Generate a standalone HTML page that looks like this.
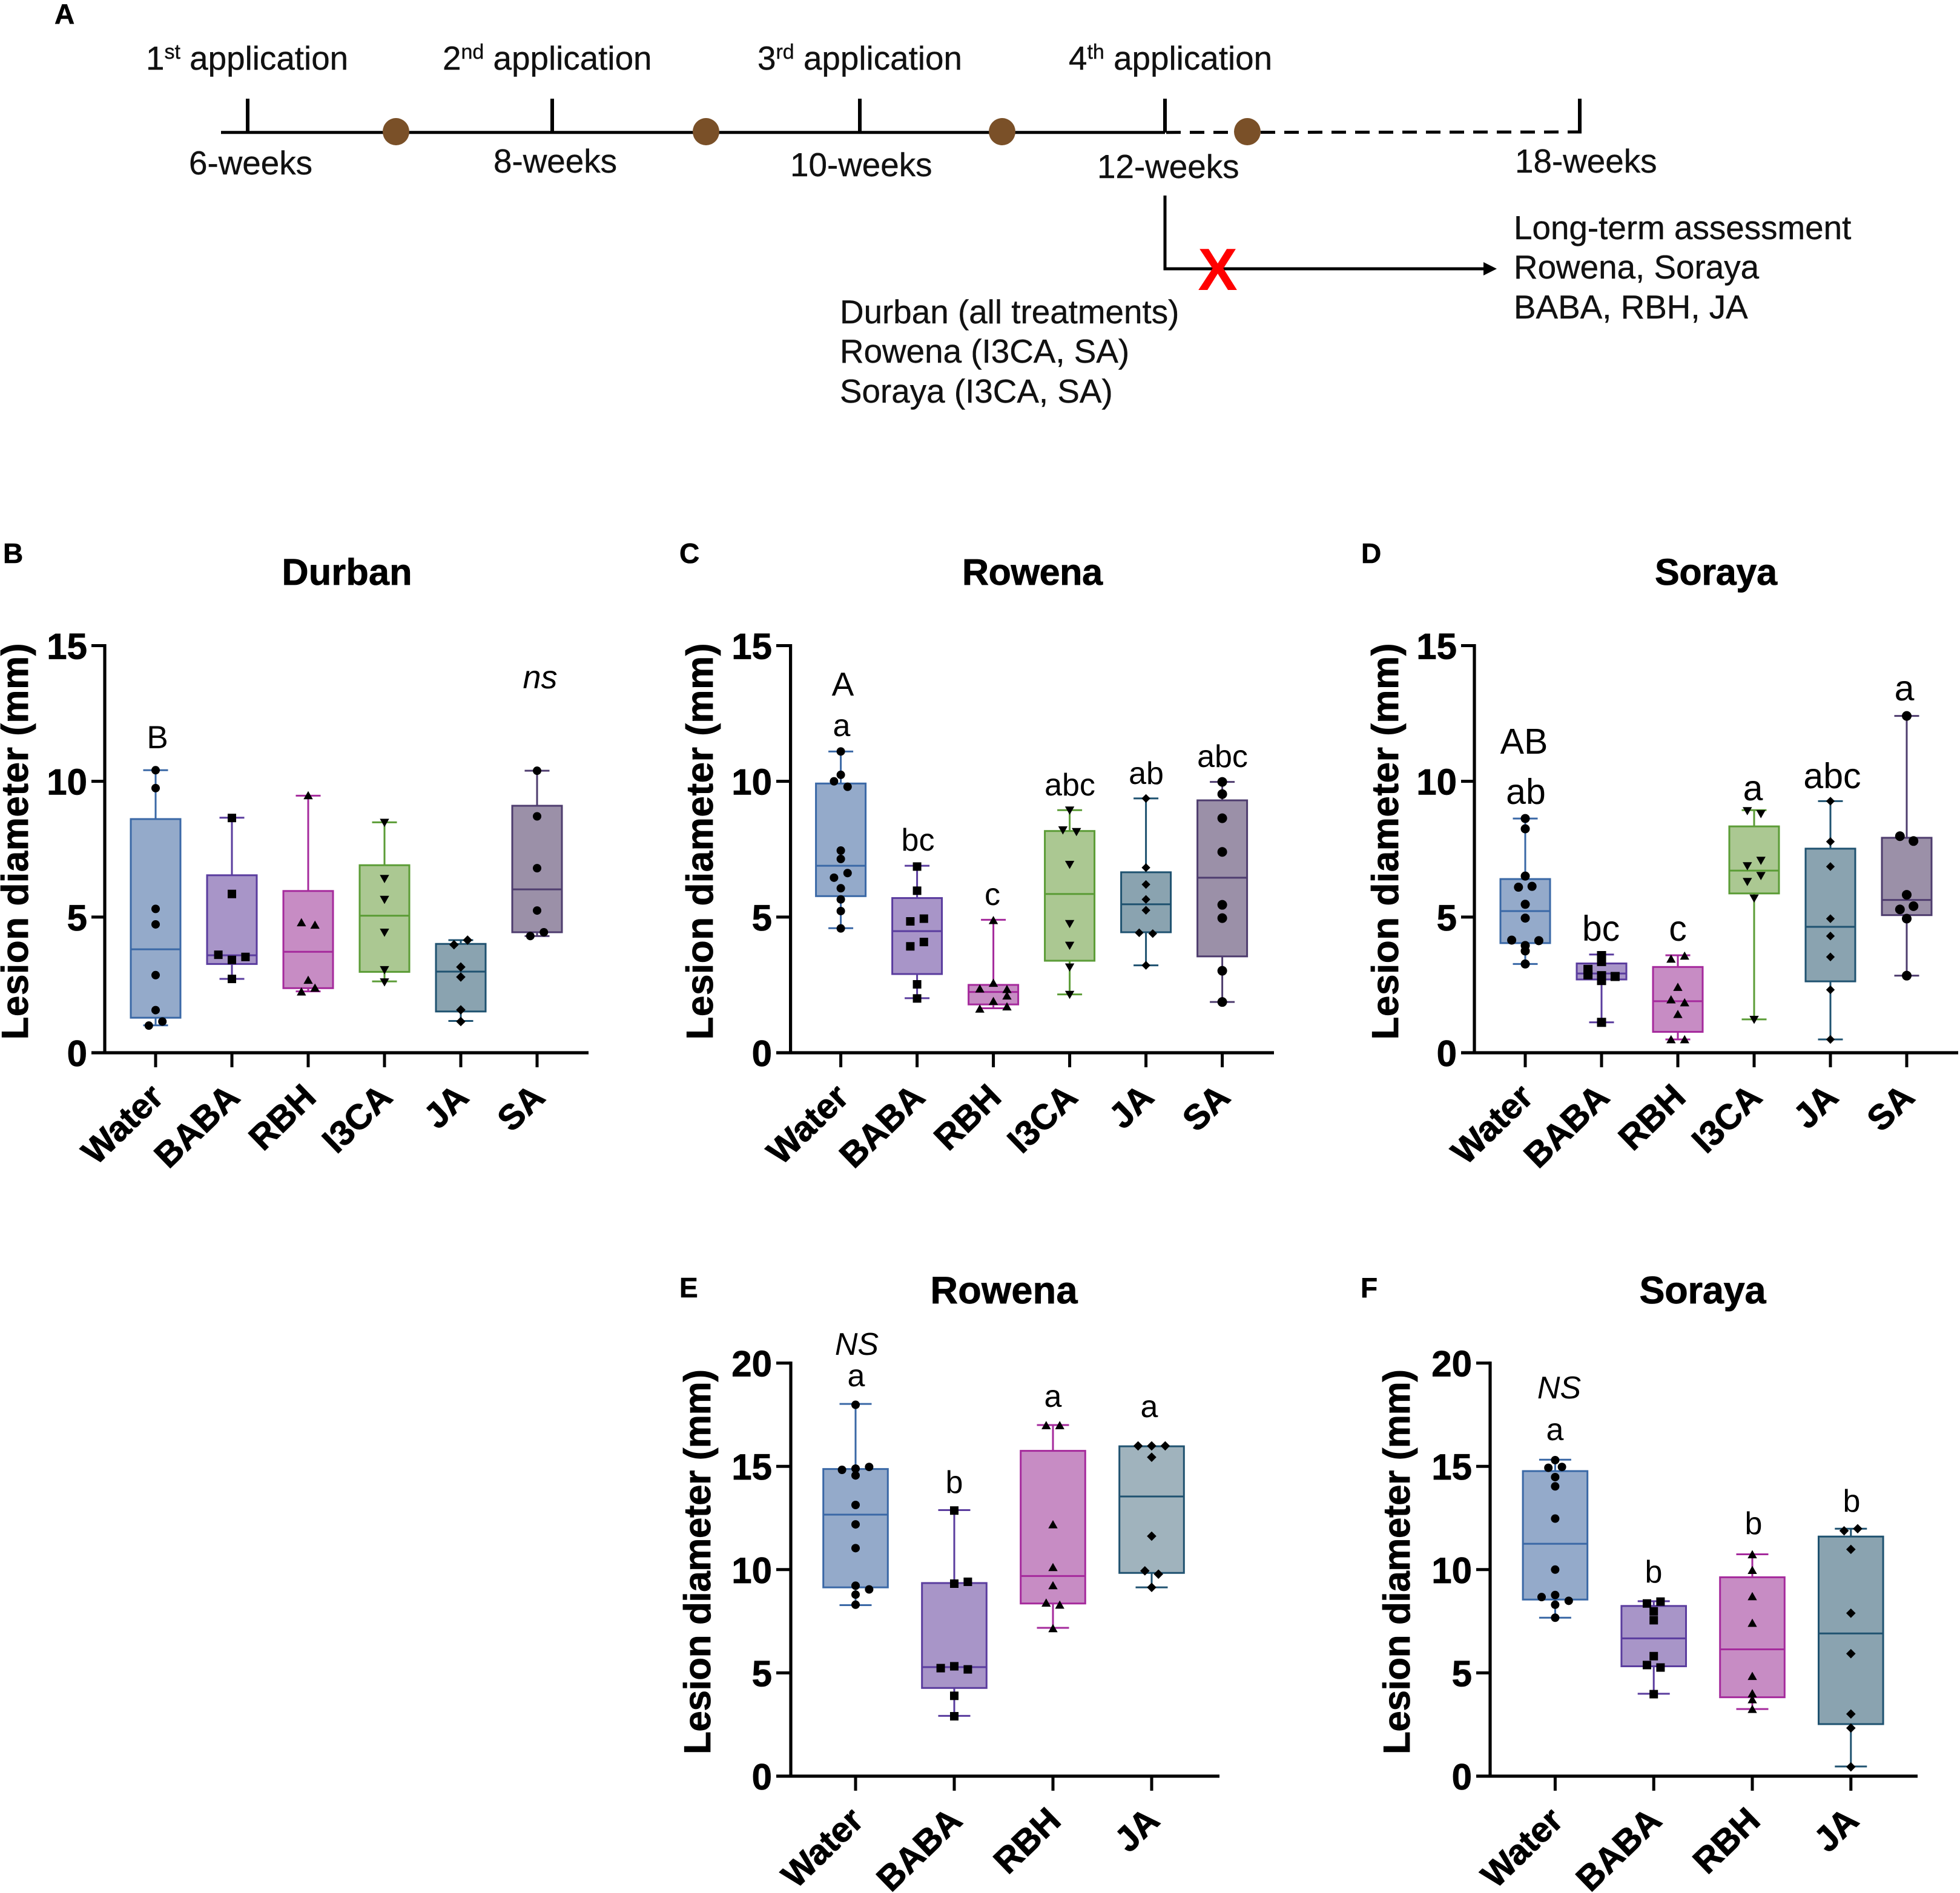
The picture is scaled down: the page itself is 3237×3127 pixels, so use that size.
<!DOCTYPE html>
<html lang="en">
<head>
<meta charset="utf-8">
<title>Lesion diameter by treatment</title>
<style>
html,body{margin:0;padding:0;background:#fff;}
svg{display:block;}
text{font-family:"Liberation Sans",Arial,sans-serif;fill:#000;}
.a{font-size:54.8px;fill:#111;stroke:#111;stroke-width:0.4px;}
.sup{font-size:34px;}
.pl{font-size:46px;font-weight:bold;stroke:#000;stroke-width:0.6px;}
.ann{fill:#111;}
</style>
</head>
<body>
<svg id="figure" xmlns="http://www.w3.org/2000/svg" width="3237" height="3127" viewBox="0 0 3237 3127">
<rect x="0" y="0" width="3237" height="3127" fill="#fff"/>

<g id="panelA">
  <text class="pl" x="90" y="39">A</text>
  <text class="a" x="241" y="115">1<tspan class="sup" dy="-18">st</tspan><tspan dy="18"> application</tspan></text>
  <text class="a" x="731" y="115">2<tspan class="sup" dy="-18">nd</tspan><tspan dy="18"> application</tspan></text>
  <text class="a" x="1251" y="115">3<tspan class="sup" dy="-18">rd</tspan><tspan dy="18"> application</tspan></text>
  <text class="a" x="1765" y="115">4<tspan class="sup" dy="-18">th</tspan><tspan dy="18"> application</tspan></text>
  <line x1="365" y1="218.7" x2="1924" y2="218.7" stroke="#000" stroke-width="5"/>
  <line x1="1926" y1="218.7" x2="2612" y2="218" stroke="#000" stroke-width="5" stroke-dasharray="24 15"/>
  <g stroke="#000" stroke-width="6">
    <line x1="409" y1="163" x2="409" y2="219"/>
    <line x1="912" y1="163" x2="912" y2="219"/>
    <line x1="1420" y1="163" x2="1420" y2="219"/>
    <line x1="1924" y1="163" x2="1924" y2="219"/>
    <line x1="2609" y1="163" x2="2609" y2="219"/>
  </g>
  <g fill="#7a5028">
    <ellipse cx="654" cy="217.5" rx="22" ry="22.5"/>
    <ellipse cx="1166" cy="217.5" rx="22" ry="22.5"/>
    <ellipse cx="1655" cy="217.5" rx="22" ry="22.5"/>
    <ellipse cx="2060" cy="217.5" rx="22" ry="22.5"/>
  </g>
  <text class="a" x="312" y="288">6-weeks</text>
  <text class="a" x="815" y="285">8-weeks</text>
  <text class="a" x="1305" y="291">10-weeks</text>
  <text class="a" x="1812" y="294">12-weeks</text>
  <text class="a" x="2502" y="285">18-weeks</text>
  <path d="M1924 323V444H2452" fill="none" stroke="#000" stroke-width="5"/>
  <path d="M2450 433L2472 444L2450 455Z" fill="#000"/>
  <text x="2011" y="479" text-anchor="middle" font-size="98" font-weight="bold" style="fill:#f00">X</text>
  <text class="a" x="2500" y="395">Long-term assessment</text>
  <text class="a" x="2500" y="460">Rowena, Soraya</text>
  <text class="a" x="2500" y="526">BABA, RBH, JA</text>
  <text class="a" x="1387" y="534">Durban (all treatments)</text>
  <text class="a" x="1387" y="599">Rowena (I3CA, SA)</text>
  <text class="a" x="1387" y="665">Soraya (I3CA, SA)</text>
</g>

<g id="annotations" class="ann" text-anchor="middle">
  <g font-size="53">
    <text x="260" y="1236">B</text>
    <text x="892" y="1137" font-style="italic" font-size="54">ns</text>
  </g>
  <g font-size="52">
    <text x="1392" y="1149" font-size="55">A</text>
    <text x="1390" y="1216">a</text>
    <text x="1516" y="1405">bc</text>
    <text x="1639" y="1495">c</text>
    <text x="1767" y="1314">abc</text>
    <text x="1893" y="1295">ab</text>
    <text x="2019" y="1267">abc</text>
  </g>
  <g font-size="59">
    <text x="2517" y="1245">AB</text>
    <text x="2520" y="1328">ab</text>
    <text x="2644" y="1554">bc</text>
    <text x="2771" y="1554">c</text>
    <text x="2895" y="1322">a</text>
    <text x="3026" y="1302">abc</text>
    <text x="3145" y="1157">a</text>
  </g>
  <g font-size="52">
    <text x="1415" y="2238" font-style="italic">NS</text>
    <text x="1414" y="2290">a</text>
    <text x="1576" y="2466">b</text>
    <text x="1739" y="2324">a</text>
    <text x="1898" y="2341">a</text>
    <text x="2575" y="2310" font-style="italic">NS</text>
    <text x="2568" y="2379">a</text>
    <text x="2731" y="2614">b</text>
    <text x="2896" y="2534">b</text>
    <text x="3058" y="2497">b</text>
  </g>
</g>
<g id="charts"></g>
</svg>

<script>
/* ---------- shared labels ---------- */
const categoriesSix = ['Water', 'BABA', 'RBH', 'I3CA', 'JA', 'SA'];
const categoriesFour = ['Water', 'BABA', 'RBH', 'JA'];
const ticks15 = [0, 5, 10, 15];
const ticks20 = [0, 5, 10, 15, 20];
const yTitle = 'Lesion diameter (mm)';

/* ---------- panel B: Durban ---------- */
const durbanHigh = [10.41, 8.66, 9.47, 8.49, 4.15, 10.39];
const durbanQ3 = [8.61, 6.54, 5.96, 6.91, 4.01, 9.1];
const durbanMedian = [3.81, 3.59, 3.72, 5.05, 2.99, 6.02];
const durbanQ1 = [1.29, 3.27, 2.38, 2.98, 1.52, 4.44];
const durbanLow = [1.01, 2.72, 2.26, 2.63, 1.17, 4.3];
const durbanPoints = [
  [10.41, 9.75, 5.3, 4.73, 2.86, 1.57, 1.15, 1.0],
  [8.65, 5.85, 3.61, 3.42, 3.53, 2.72],
  [9.47, 4.79, 4.7, 2.67, 2.38, 2.24],
  [8.49, 6.42, 5.65, 4.44, 3.06, 2.61],
  [4.15, 3.98, 3.16, 2.79, 1.58, 1.15],
  [10.39, 8.71, 6.8, 5.24, 4.44, 4.3]
];
const durbanSlots = [
  [0, 0, 0, 0, 0, 0, 1, -1],
  [0, 0, -2, 0, 2, 0],
  [0, -1, 1, 0, 1, -1],
  [0, 0, 0, 0, 0, 0],
  [1, -1, 0, 0, 0, 0],
  [0, 0, 0, 0, 1, -1]
];

/* ---------- panel C: Rowena ---------- */
const rowenaHigh = [11.1, 6.89, 4.9, 8.94, 9.37, 9.98];
const rowenaQ3 = [9.92, 5.7, 2.5, 8.17, 6.65, 9.3];
const rowenaMedian = [6.89, 4.48, 2.24, 5.85, 5.47, 6.45];
const rowenaQ1 = [5.77, 2.9, 1.78, 3.39, 4.44, 3.55];
const rowenaLow = [4.59, 2.01, 1.64, 2.15, 3.22, 1.87];
const rowenaPoints = [
  [11.1, 10.24, 10.0, 9.8, 7.45, 7.14, 6.45, 6.62, 6.06, 5.65, 5.22, 4.58],
  [6.86, 5.97, 4.84, 4.94, 4.08, 3.92, 2.52, 2.0],
  [4.87, 2.56, 2.35, 2.33, 2.09, 1.89, 1.61, 1.69],
  [8.94, 8.21, 8.15, 6.94, 4.76, 3.96, 3.16, 2.15],
  [9.37, 6.82, 6.2, 5.65, 5.25, 4.42, 4.39, 3.22],
  [9.98, 9.53, 8.64, 7.4, 5.45, 4.96, 3.02, 1.87]
];
const rowenaSlots = [
  [0, 0, -1, 1, 0, 0, -1, 1, 0, 0, 0, 0],
  [0, 0, -1, 1, 1, -1, 0, 0],
  [0, 0, -2, 2, 2, 0, -2, 2],
  [0, -1, 1, 0, 0, 0, 0, 0],
  [0, 0, 0, 0, 0, -1, 1, 0],
  [0, 0, 0, 0, 0, 0, 0, 0]
];

/* ---------- panel D: Soraya ---------- */
const sorayaHigh = [8.63, 3.62, 3.59, 8.94, 9.27, 12.41];
const sorayaQ3 = [6.4, 3.29, 3.16, 8.34, 7.52, 7.92];
const sorayaMedian = [5.22, 2.92, 1.9, 6.71, 4.64, 5.63];
const sorayaQ1 = [4.04, 2.7, 0.77, 5.87, 2.63, 5.07];
const sorayaLow = [3.27, 1.12, 0.49, 1.23, 0.49, 2.84];
const sorayaPoints = [
  [8.63, 8.25, 6.51, 6.1, 6.13, 5.47, 4.96, 4.15, 4.13, 3.95, 3.75, 3.27],
  [3.58, 3.36, 3.07, 2.87, 2.84, 2.66, 2.81, 1.12],
  [3.45, 3.56, 2.41, 1.95, 1.84, 1.41, 0.48, 0.48],
  [8.92, 8.81, 6.89, 7.09, 6.31, 6.53, 5.7, 1.23],
  [9.27, 7.78, 6.86, 4.94, 4.3, 3.53, 2.32, 0.49],
  [12.41, 7.98, 7.8, 5.82, 5.28, 5.4, 4.94, 2.84]
];
const sorayaSlots = [
  [0, 0, 0, -1, 1, 0, 0, -2, 2, 0, 0, 0],
  [0, 0, -2, -2, 0, 0, 2, 0],
  [-1, 1, 0, -1, 1, 0, -1, 1],
  [-1, 1, -1, 1, -1, 1, 0, 0],
  [0, 0, 0, 0, 0, 0, 0, 0],
  [0, -1, 1, 0, -1, 1, 0, 0]
];

/* ---------- panel E: Rowena long-term ---------- */
const rowenaLongHigh = [18.02, 12.88, 17.0, 15.97];
const rowenaLongQ3 = [14.87, 9.35, 15.75, 15.97];
const rowenaLongMedian = [12.66, 5.28, 9.69, 13.54];
const rowenaLongQ1 = [9.14, 4.27, 8.36, 9.84];
const rowenaLongLow = [8.28, 2.92, 7.18, 9.14];
const rowenaLongPoints = [
  [17.98, 14.83, 14.89, 14.97, 14.56, 13.13, 12.19, 11.04, 9.22, 9.04, 8.79, 8.3],
  [12.86, 9.32, 9.41, 5.23, 5.32, 5.17, 3.89, 2.9],
  [16.97, 16.97, 12.17, 10.1, 9.22, 8.38, 8.28, 7.14],
  [15.99, 15.99, 15.99, 15.44, 11.62, 9.94, 9.78, 9.14]
];
const rowenaLongSlots = [
  [0, -2, 0, 2, 0, 0, 0, 0, 0, 2, 0, 0],
  [0, 0, 2, -2, 0, 2, 0, 0],
  [-1, 1, 0, 0, 0, -1, 1, 0],
  [-2, 0, 2, 0, 0, -1, 1, 0]
];

/* ---------- panel F: Soraya long-term ---------- */
const sorayaLongHigh = [15.32, 8.47, 10.74, 11.98];
const sorayaLongQ3 = [14.77, 8.24, 9.63, 11.6];
const sorayaLongMedian = [11.25, 6.67, 6.14, 6.91];
const sorayaLongQ1 = [8.55, 5.32, 3.82, 2.52];
const sorayaLongLow = [7.67, 3.99, 3.25, 0.47];
const sorayaLongPoints = [
  [15.3, 14.93, 14.97, 14.48, 14.03, 12.47, 10.0, 8.67, 8.77, 8.49, 8.3, 7.67],
  [8.36, 8.45, 7.98, 7.55, 5.81, 5.38, 5.26, 3.97],
  [10.72, 9.96, 8.69, 7.4, 4.83, 3.99, 3.7, 3.23],
  [11.88, 11.98, 10.98, 7.89, 5.93, 3.01, 2.33, 0.45]
];
const sorayaLongSlots = [
  [0, -1, 1, 0, 0, 0, 0, -2, 0, 2, 0, 0],
  [-1, 1, 0, 0, 0, -1, 1, 0],
  [0, 0, 0, 0, 0, 0, 0, 0],
  [-1, 1, 0, 0, 0, 0, 0, 0]
];

/* ---------- styling by treatment ---------- */
const treatmentStyle = {
  Water: { fill: '#94aaca', stroke: '#3a68a6', marker: 'circle' },
  BABA: { fill: '#a895c8', stroke: '#5a3c9e', marker: 'square' },
  RBH: { fill: '#c78cc4', stroke: '#a52a9c', marker: 'triangle' },
  I3CA: { fill: '#abc892', stroke: '#5b9c36', marker: 'triangleDown' },
  JA: { fill: '#8aa3b0', stroke: '#1f5270', marker: 'diamond' },
  SA: { fill: '#9b90a8', stroke: '#4e3c6e', marker: 'circle' }
};

const SVGNS = 'http://www.w3.org/2000/svg';
function el(tag, attrs, parent) {
  const n = document.createElementNS(SVGNS, tag);
  Object.keys(attrs).forEach(function (k) { n.setAttribute(k, attrs[k]); });
  parent.appendChild(n);
  return n;
}

function drawMarker(parent, kind, x, y, s, fill) {
  let m;
  if (kind === 'circle') {
    m = el('circle', { cx: x, cy: y, r: s * 0.5, fill: fill }, parent);
  } else if (kind === 'square') {
    m = el('rect', { x: x - s * 0.5, y: y - s * 0.5, width: s, height: s, fill: fill }, parent);
  } else if (kind === 'triangle') {
    m = el('path', { d: 'M' + x + ' ' + (y - s * 0.55) + 'L' + (x + s * 0.55) + ' ' + (y + s * 0.42) + 'L' + (x - s * 0.55) + ' ' + (y + s * 0.42) + 'Z', fill: fill }, parent);
  } else if (kind === 'triangleDown') {
    m = el('path', { d: 'M' + x + ' ' + (y + s * 0.55) + 'L' + (x + s * 0.55) + ' ' + (y - s * 0.42) + 'L' + (x - s * 0.55) + ' ' + (y - s * 0.42) + 'Z', fill: fill }, parent);
  } else {
    m = el('path', { d: 'M' + x + ' ' + (y - s * 0.6) + 'L' + (x + s * 0.6) + ' ' + y + 'L' + x + ' ' + (y + s * 0.6) + 'L' + (x - s * 0.6) + ' ' + y + 'Z', fill: fill }, parent);
  }
  return m;
}

function drawPanel(cfg) {
  const root = document.getElementById('charts');
  const g = el('g', {}, root);
  
  

  const yMax = cfg.ticks[cfg.ticks.length - 1];
  const yScale = function (v) { return cfg.y0 - (v / yMax) * (cfg.y0 - cfg.yTop); };
  const xScale = function (i) { return cfg.firstX + cfg.step * i; };
  const slotPx = 11.2;

  const letter = el('text', { x: cfg.letterX, y: cfg.letterY, 'font-size': 46, 'font-weight': 'bold', stroke: '#000', 'stroke-width': 0.6 }, g);
  letter.textContent = cfg.letter.toUpperCase();
  
  

  const title = el('text', { x: cfg.titleX, y: cfg.titleY, 'font-size': cfg.titleFont, 'font-weight': 'bold', 'text-anchor': 'middle', textLength: cfg.titleLen, lengthAdjust: 'spacing', stroke: '#000', 'stroke-width': 0.8 }, g);
  title.textContent = cfg.title;
  
  

  const axisTitle = el('text', { transform: 'translate(' + cfg.titleAxisX + ' ' + cfg.titleAxisY + ') rotate(-90)', 'font-size': 62, 'font-weight': 'bold', 'text-anchor': 'middle', textLength: cfg.titleAxisLen, lengthAdjust: 'spacing', stroke: '#000', 'stroke-width': 0.8 }, g);
  axisTitle.textContent = yTitle;
  
  

  const yAxis = el('line', { x1: cfg.axisX, x2: cfg.axisX, y1: cfg.yTop - 2.5, y2: cfg.y0 + 2.5, stroke: '#000', 'stroke-width': 5.2 }, g);
  
  

  const xAxis = el('line', { x1: cfg.xStart, x2: cfg.xEnd, y1: cfg.y0, y2: cfg.y0, stroke: '#000', 'stroke-width': 5.2 }, g);
  
  

  cfg.ticks.forEach(function (t) {
    const y = yScale(t);
    const tick = el('line', { x1: cfg.xStart, x2: cfg.axisX, y1: y, y2: y, stroke: '#000', 'stroke-width': 5 }, g);
    
    
    const lab = el('text', { x: cfg.xStart - 7, y: y + 22, 'font-size': 60, 'font-weight': 'bold', 'text-anchor': 'end', stroke: '#000', 'stroke-width': 0.8 }, g);
    lab.textContent = String(t);
    
    
  });

  cfg.categories.forEach(function (cat, i) {
    const x = xScale(i);
    const st = treatmentStyle[cat];
    const key = cat.toLowerCase();

    const tick = el('line', { x1: x, x2: x, y1: cfg.y0, y2: cfg.y0 + 24, stroke: '#000', 'stroke-width': 5 }, g);
    
    

    const ax = x + 16;
    const ay = cfg.y0 + 77;
    const lab = el('text', { transform: 'translate(' + ax + ' ' + ay + ') rotate(-44)', 'font-size': 58, 'font-weight': 'bold', 'text-anchor': 'end', stroke: '#000', 'stroke-width': 1 }, g);
    lab.textContent = cat;
    
    

    const yHigh = yScale(cfg.high[i]);
    const yLow = yScale(cfg.low[i]);
    const yQ3 = yScale(cfg.q3[i]);
    const yQ1 = yScale(cfg.q1[i]);
    const yMed = yScale(cfg.median[i]);

    const whiskerUp = el('line', { x1: x, x2: x, y1: yHigh, y2: yQ3, stroke: st.stroke, 'stroke-width': 3 }, g);
    
    
    const whiskerDown = el('line', { x1: x, x2: x, y1: yQ1, y2: yLow, stroke: st.stroke, 'stroke-width': 3 }, g);
    
    
    const capUp = el('line', { x1: x - cfg.capW / 2, x2: x + cfg.capW / 2, y1: yHigh, y2: yHigh, stroke: st.stroke, 'stroke-width': 3 }, g);
    
    
    const capDown = el('line', { x1: x - cfg.capW / 2, x2: x + cfg.capW / 2, y1: yLow, y2: yLow, stroke: st.stroke, 'stroke-width': 3 }, g);
    
    

    const fill = (cfg.lightJA && cat === 'JA') ? '#a0b3bd' : st.fill;
    const box = el('rect', { x: x - cfg.boxW / 2, y: yQ3, width: cfg.boxW, height: yQ1 - yQ3, fill: fill, stroke: st.stroke, 'stroke-width': 3 }, g);
    
    

    const med = el('line', { x1: x - cfg.boxW / 2, x2: x + cfg.boxW / 2, y1: yMed, y2: yMed, stroke: st.stroke, 'stroke-width': 3 }, g);
    
    

    const size = (cfg.markerSizes && cfg.markerSizes[i]) || 14;
    cfg.points[i].forEach(function (v, j) {
      const px = x + cfg.slots[i][j] * slotPx;
      const m = drawMarker(g, st.marker, px, yScale(v), size, '#000');
      
      
    });
  });
}

drawPanel({
  letter: 'b', title: 'Durban', categories: categoriesSix, ticks: ticks15,
  high: durbanHigh, q3: durbanQ3, median: durbanMedian, q1: durbanQ1, low: durbanLow, points: durbanPoints, slots: durbanSlots,
  y0: 1739, yTop: 1066.5, axisX: 173, xStart: 151, xEnd: 972, firstX: 257, step: 126, boxW: 82, capW: 41,
  letterX: 5, letterY: 930, titleX: 573, titleY: 966, titleLen: 215, titleFont: 61,
  titleAxisX: 46, titleAxisY: 1390, titleAxisLen: 655, markerSizes: [14, 14, 14, 14, 13, 14]
});
drawPanel({
  letter: 'c', title: 'Rowena', categories: categoriesSix, ticks: ticks15,
  high: rowenaHigh, q3: rowenaQ3, median: rowenaMedian, q1: rowenaQ1, low: rowenaLow, points: rowenaPoints, slots: rowenaSlots,
  y0: 1739, yTop: 1066.5, axisX: 1305.6, xStart: 1282, xEnd: 2104, firstX: 1388.6, step: 126, boxW: 82, capW: 41,
  letterX: 1122, letterY: 930, titleX: 1705, titleY: 966, titleLen: 232, titleFont: 61,
  titleAxisX: 1177, titleAxisY: 1390, titleAxisLen: 655, markerSizes: [14, 14, 14, 14, 12, 16]
});
drawPanel({
  letter: 'd', title: 'Soraya', categories: categoriesSix, ticks: ticks15,
  high: sorayaHigh, q3: sorayaQ3, median: sorayaMedian, q1: sorayaQ1, low: sorayaLow, points: sorayaPoints, slots: sorayaSlots,
  y0: 1739, yTop: 1066.5, axisX: 2435, xStart: 2413, xEnd: 3234, firstX: 2519, step: 126, boxW: 82, capW: 41,
  letterX: 2248, letterY: 930, titleX: 2834, titleY: 966, titleLen: 202, titleFont: 61,
  titleAxisX: 2309, titleAxisY: 1390, titleAxisLen: 655, markerSizes: [15, 15, 14, 14, 12, 16]
});
drawPanel({
  letter: 'e', title: 'Rowena', categories: categoriesFour, ticks: ticks20,
  high: rowenaLongHigh, q3: rowenaLongQ3, median: rowenaLongMedian, q1: rowenaLongQ1, low: rowenaLongLow, points: rowenaLongPoints, slots: rowenaLongSlots,
  y0: 2934, yTop: 2251.6, axisX: 1306, xStart: 1282, xEnd: 2014, firstX: 1413, step: 163, boxW: 106.6, capW: 53, lightJA: true,
  letterX: 1122, letterY: 2143, titleX: 1658, titleY: 2153, titleLen: 243, titleFont: 63,
  titleAxisX: 1173, titleAxisY: 2580, titleAxisLen: 636, markerSizes: [14, 14, 14, 13]
});
drawPanel({
  letter: 'f', title: 'Soraya', categories: categoriesFour, ticks: ticks20,
  high: sorayaLongHigh, q3: sorayaLongQ3, median: sorayaLongMedian, q1: sorayaLongQ1, low: sorayaLongLow, points: sorayaLongPoints, slots: sorayaLongSlots,
  y0: 2934, yTop: 2251.6, axisX: 2461, xStart: 2438, xEnd: 3167, firstX: 2568.4, step: 162.8, boxW: 106.6, capW: 53,
  letterX: 2247, letterY: 2143, titleX: 2812, titleY: 2153, titleLen: 209, titleFont: 63,
  titleAxisX: 2328, titleAxisY: 2580, titleAxisLen: 636, markerSizes: [14, 14, 14, 13]
});
</script>
</body>
</html>
